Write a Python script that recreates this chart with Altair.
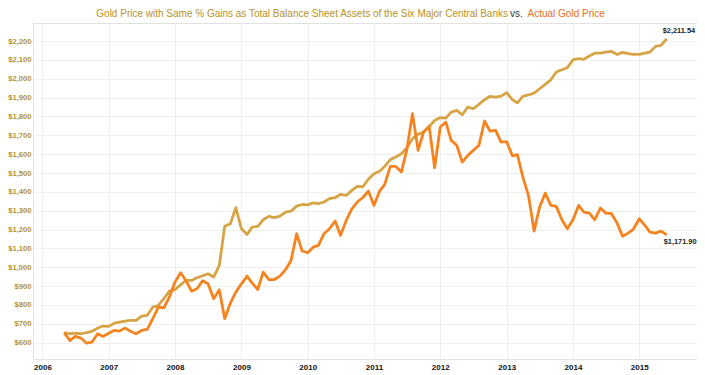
import altair as alt
import pandas as pd

# Monthly observations, May 2006 .. June 2015
start_month = "2006-05-01"
n_months = 110

actual_gold = [
    653, 611, 633, 624, 597, 603, 647, 633, 650, 665,
    661, 677, 660, 647, 665, 670, 727, 788, 785, 841,
    921, 971, 930, 873, 886, 928, 912, 833, 880, 727,
    810, 868, 912, 953, 916, 882, 974, 934, 935, 953,
    987, 1036, 1178, 1086, 1077, 1107, 1116, 1178, 1204, 1245,
    1169, 1248, 1310, 1346, 1370, 1404, 1328, 1404, 1440, 1535,
    1535, 1505, 1624, 1815, 1620, 1717, 1747, 1528, 1744, 1770,
    1673, 1647, 1558, 1594, 1620, 1647, 1776, 1722, 1726, 1664,
    1666, 1591, 1597, 1474, 1381, 1192, 1319, 1393, 1328, 1323,
    1252, 1204, 1252, 1328, 1293, 1287, 1252, 1314, 1287, 1284,
    1234, 1164, 1181, 1204, 1257, 1222, 1186, 1181, 1192, 1171.90,
]

balance_sheet_gold = [
    653, 647, 650, 647, 653, 660, 677, 688, 686, 703,
    709, 714, 718, 718, 741, 745, 788, 797, 833, 873,
    881, 907, 930, 930, 944, 955, 965, 948, 1010, 1217,
    1231, 1316, 1204, 1174, 1213, 1217, 1252, 1270, 1263, 1271,
    1293, 1298, 1324, 1333, 1331, 1342, 1337, 1346, 1364, 1369,
    1387, 1381, 1408, 1429, 1427, 1467, 1496, 1509, 1535, 1571,
    1585, 1602, 1634, 1682, 1705, 1717, 1747, 1779, 1794, 1791,
    1823, 1832, 1809, 1850, 1841, 1864, 1889, 1907, 1903, 1908,
    1926, 1889, 1872, 1908, 1914, 1924, 1947, 1970, 1995, 2036,
    2048, 2059, 2101, 2107, 2103, 2121, 2136, 2136, 2142, 2145,
    2129, 2140, 2133, 2129, 2129, 2136, 2142, 2172, 2177, 2211.54,
]

y_ticks = list(range(600, 2201, 100))
year_ticks = list(range(2006, 2016))

title_part1 = "Gold Price with Same % Gains as Total Balance Sheet Assets of the Six Major Central Banks"
title_part2 = "vs."
title_part3 = "Actual Gold Price"

TAN = "#D6A445"
ORANGE = "#F5831F"
GOLD_TEXT = "#B8921C"
ORANGE_TEXT = "#E8701A"

dates = pd.date_range(start_month, periods=n_months, freq="MS")
df = pd.DataFrame({
    "date": list(dates) * 2,
    "value": balance_sheet_gold + actual_gold,
    "series": ["Balance Sheet"] * n_months + ["Actual"] * n_months,
})
last = pd.DataFrame({
    "date": [dates[-1], dates[-1]],
    "value": [balance_sheet_gold[-1], actual_gold[-1]],
    "series": ["Balance Sheet", "Actual"],
    "label": [f"${balance_sheet_gold[-1]:,.2f}", f"${actual_gold[-1]:,.2f}"],
})

x_scale = alt.Scale(domain=[alt.DateTime(year=2005, month=11, date=10),
                            alt.DateTime(year=2015, month=11, date=15)])
y_scale = alt.Scale(domain=[513, 2296], nice=False, zero=False)

x_axis = alt.Axis(
    values=[alt.DateTime(year=y, month=1, date=1) for y in year_ticks],
    format="%Y", title=None, ticks=False, domain=False,
    labelFont="Liberation Sans", labelFontWeight="bold", labelFontSize=8,
    labelColor="#111111", labelPadding=4, gridColor="#efefef", labelAlign="center",
    labelOverlap=False,
)
y_axis = alt.Axis(
    values=y_ticks, format="$,.0f", title=None, ticks=False, domain=False,
    labelFont="Liberation Sans", labelFontWeight="bold", labelFontSize=7.6,
    labelColor=GOLD_TEXT, labelPadding=2, gridColor="#efefef",
    labelOverlap=False, labelBound=False,
)

X = alt.X("date:T", scale=x_scale, axis=x_axis)
Y = alt.Y("value:Q", scale=y_scale, axis=y_axis)

lines = alt.Chart(df).mark_line(strokeWidth=2.8, strokeJoin="round").encode(
    x=X, y=Y,
    color=alt.Color("series:N", scale=alt.Scale(domain=["Balance Sheet", "Actual"],
                                                range=[TAN, ORANGE]), legend=None),
    order=alt.Order("series:N", sort="descending"),
)

lab_top = alt.Chart(last[last.series == "Balance Sheet"]).mark_text(
    align="left", baseline="middle", dx=-4, dy=-8, fontSize=7.4,
    font="Liberation Sans", fontWeight="bold", color="#222222",
).encode(x=X, y=Y, text="label:N")

lab_bot = alt.Chart(last[last.series == "Actual"]).mark_text(
    align="left", baseline="middle", dx=-3, dy=7, fontSize=7.4,
    font="Liberation Sans", fontWeight="bold", color="#222222",
).encode(x=X, y=Y, text="label:N")

tdf = pd.DataFrame({"t": [title_part1, title_part2, title_part3]})
t1 = alt.Chart(tdf).transform_filter(alt.datum.t == title_part1).mark_text(
    align="right", baseline="middle", fontSize=10, font="Liberation Sans", color=GOLD_TEXT,
).encode(x=alt.value(475), y=alt.value(-9), text="t:N")
t2 = alt.Chart(tdf).transform_filter(alt.datum.t == title_part2).mark_text(
    align="left", baseline="middle", fontSize=10, font="Liberation Sans", color="#333333",
).encode(x=alt.value(477), y=alt.value(-9), text="t:N")
t3 = alt.Chart(tdf).transform_filter(alt.datum.t == title_part3).mark_text(
    align="left", baseline="middle", fontSize=10, font="Liberation Sans", color=ORANGE_TEXT,
).encode(x=alt.value(494.5), y=alt.value(-9), text="t:N")

chart = alt.layer(lines, lab_top, lab_bot, t1, t2, t3).properties(
    width=664, height=336,
    autosize=alt.AutoSizeParams(type="none"),
    padding={"left": 25, "top": 15, "right": 0, "bottom": 12},
    background="white",
).configure_view(stroke="#e2e2e2", strokeWidth=1)

chart.save("out.html", embed_options={"renderer": "svg", "actions": False})
